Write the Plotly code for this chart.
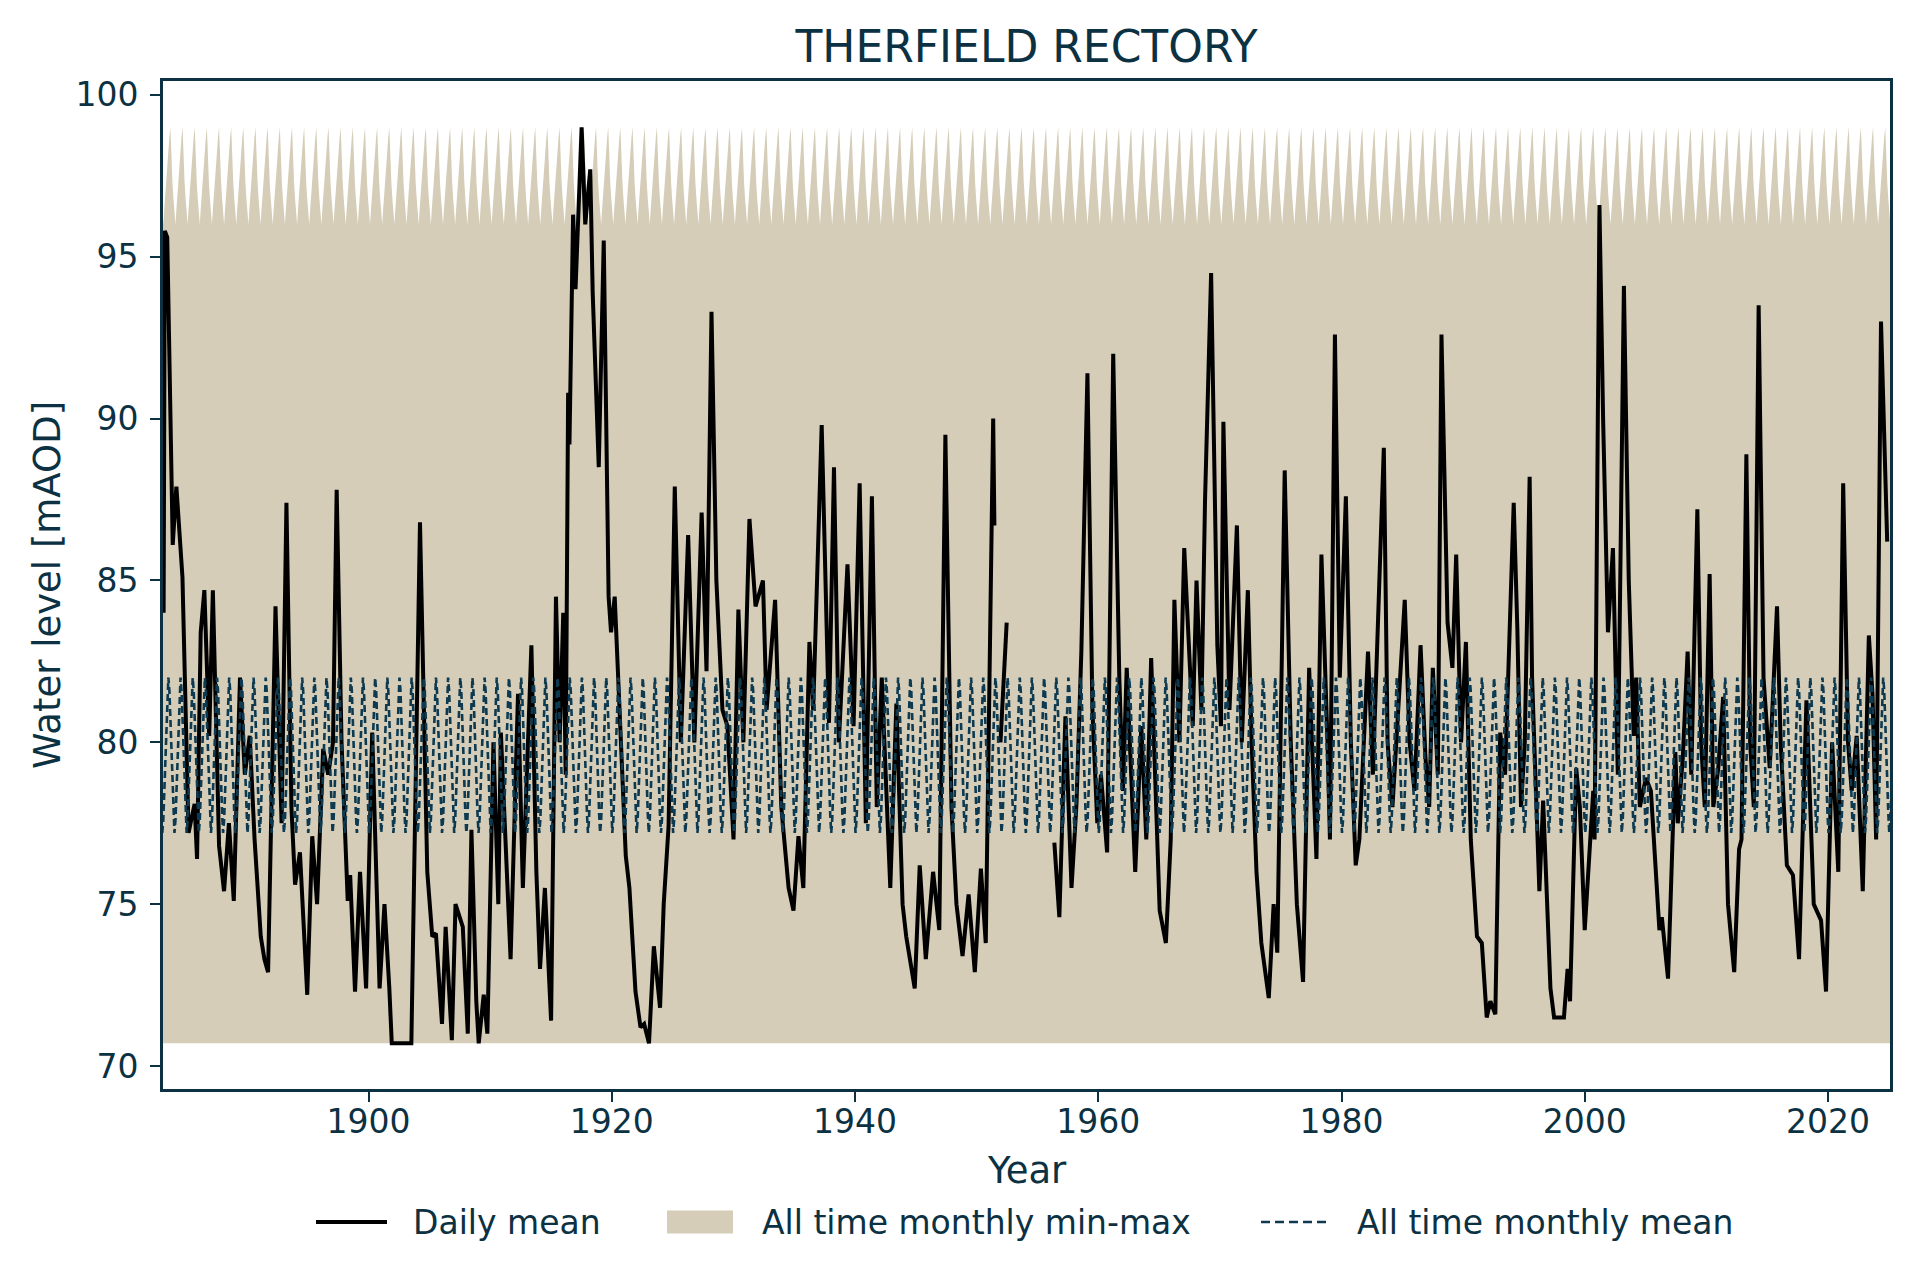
import plotly.graph_objects as go

# ---------------- data ----------------
# Daily mean water level (decimal year, mAOD); None marks the data gap
daily_years = [
    1883.15, 1883.25, 1883.45, 1883.90, 1884.20, 1884.70, 1885.20, 1885.70, 1885.90, 1886.20,
    1886.50, 1886.90, 1887.20, 1887.71, 1888.12, 1888.52, 1888.92, 1889.43, 1889.83, 1890.23,
    1890.63, 1891.14, 1891.44, 1891.74, 1892.35, 1892.85, 1893.25, 1893.66, 1893.96, 1894.36,
    1894.96, 1895.37, 1895.77, 1896.27, 1896.68, 1897.08, 1897.38, 1897.78, 1898.29, 1898.49,
    1898.89, 1899.30, 1899.80, 1900.30, 1900.91, 1901.31, 1901.71, 1901.91, 1903.52, 1903.73,
    1904.23, 1904.83, 1905.24, 1905.54, 1906.04, 1906.34, 1906.85, 1907.15, 1907.75, 1908.16,
    1908.46, 1908.86, 1909.06, 1909.47, 1909.77, 1910.27, 1910.67, 1910.88, 1911.68, 1912.29,
    1912.69, 1913.39, 1913.80, 1914.10, 1914.50, 1915.01, 1915.41, 1915.71, 1916.01, 1916.21,
    1916.41, 1916.52, 1916.82, 1917.02, 1917.52, 1917.82, 1918.23, 1918.43, 1918.93, 1919.34,
    1919.74, 1919.94, 1920.24, 1920.64, 1921.15, 1921.45, 1921.95, 1922.36, 1922.66, 1923.06,
    1923.46, 1923.97, 1924.27, 1924.67, 1925.18, 1925.68, 1926.28, 1926.79, 1927.39, 1927.79,
    1928.20, 1928.60, 1929.10, 1929.51, 1930.01, 1930.41, 1930.82, 1931.32, 1931.82, 1932.43,
    1932.73, 1933.43, 1933.94, 1934.54, 1934.94, 1935.35, 1935.75, 1936.25, 1936.56, 1937.26,
    1937.86, 1938.27, 1938.67, 1939.38, 1939.88, 1940.38, 1940.89, 1941.39, 1941.79, 1942.20,
    1942.90, 1943.40, 1943.91, 1944.21, 1944.91, 1945.32, 1945.82, 1946.42, 1946.93, 1947.43,
    1947.93, 1948.34, 1948.84, 1949.34, 1949.85, 1950.35, 1950.75, 1951.36, 1951.46, 1951.70,
    1951.96, 1952.47, 1954.00,
    1956.39, 1956.80, 1957.30, 1957.80, 1958.21, 1958.61, 1959.11, 1959.52, 1959.92, 1960.22,
    1960.73, 1961.23, 1961.73, 1962.03, 1962.34, 1963.04, 1963.54, 1963.95, 1964.35, 1965.05,
    1965.56, 1965.96, 1966.26, 1966.67, 1967.07, 1967.47, 1967.77, 1968.08, 1968.48, 1968.78,
    1969.28, 1969.79, 1970.09, 1970.29, 1970.79, 1971.40, 1971.80, 1972.30, 1972.61, 1973.01,
    1973.41, 1974.02, 1974.42, 1974.72, 1975.33, 1975.83, 1976.33, 1976.84, 1977.34, 1977.94,
    1978.35, 1978.85, 1979.05, 1979.46, 1979.86, 1980.36, 1980.77, 1981.17, 1981.47, 1982.18,
    1982.58, 1983.48, 1983.79, 1984.19, 1985.20, 1985.60, 1986.00, 1986.50, 1986.91, 1987.21,
    1987.51, 1987.92, 1988.22, 1988.72, 1989.12, 1989.43, 1989.83, 1990.23, 1990.63, 1991.14,
    1991.54, 1991.94, 1992.24, 1992.65, 1993.05, 1993.45, 1994.16, 1994.46, 1994.76, 1995.07,
    1995.47, 1995.67, 1996.07, 1996.27, 1996.58, 1996.78, 1997.18, 1997.48, 1998.29, 1998.59,
    1998.79, 1999.30, 1999.60, 2000.00, 2000.30, 2000.70, 2000.81, 2001.21, 2001.51, 2001.91,
    2002.32, 2002.72, 2003.22, 2003.62, 2004.03, 2004.23, 2004.53, 2005.03, 2005.44, 2005.74,
    2006.14, 2006.34, 2006.65, 2006.85, 2007.05, 2007.45, 2007.65, 2008.06, 2008.46, 2008.76,
    2009.26, 2009.57, 2009.87, 2010.27, 2010.57, 2010.98, 2011.38, 2011.78, 2012.29, 2012.69,
    2012.89, 2013.29, 2013.60, 2013.90, 2014.30, 2014.70, 2015.21, 2015.81, 2016.11, 2016.62,
    2017.12, 2017.62, 2018.23, 2018.53, 2018.83, 2019.43, 2019.84, 2020.34, 2020.85, 2021.25,
    2021.65, 2021.95, 2022.36, 2022.86, 2023.36, 2023.66, 2023.96, 2024.36, 2024.57, 2024.87,
]
daily_level = [
    84.0, 95.8, 95.6, 86.1, 87.9, 85.1, 77.2, 78.1, 76.4, 83.4,
    84.7, 80.2, 84.7, 76.8, 75.4, 77.5, 75.1, 82.0, 79.0, 80.2,
    77.0, 74.0, 73.3, 72.9, 84.2, 77.5, 87.4, 78.0, 75.6, 76.6,
    72.2, 77.1, 75.0, 79.8, 79.0, 80.0, 87.8, 80.0, 75.1, 75.9,
    72.3, 76.0, 72.4, 80.3, 72.4, 75.0, 72.4, 70.7, 70.7, 75.0,
    86.8, 76.0, 74.0, 74.1, 71.3, 74.3, 70.8, 75.0, 74.3, 71.0,
    77.3, 72.0, 70.7, 72.2, 71.0, 80.0, 75.0, 80.3, 73.3, 81.5,
    75.5, 83.0, 76.0, 73.0, 75.5, 71.4, 84.5, 80.0, 84.0, 79.0,
    90.8, 89.2, 96.3, 94.0, 99.0, 96.0, 97.7, 93.9, 88.5, 95.5,
    84.5, 83.4, 84.5, 81.0, 76.5, 75.5, 72.3, 71.2, 71.3, 70.7,
    73.7, 71.8, 75.0, 77.4, 87.9, 80.0, 86.4, 80.0, 87.1, 82.2,
    93.3, 85.0, 81.0, 80.5, 77.0, 84.1, 80.0, 86.9, 84.2, 85.0,
    81.0, 84.4, 78.0, 75.5, 74.8, 77.1, 75.5, 83.1, 81.0, 89.8,
    80.6, 88.5, 80.0, 85.5, 80.5, 88.0, 77.5, 87.6, 78.0, 82.0,
    75.5, 81.2, 75.0, 74.0, 72.4, 76.2, 73.3, 76.0, 74.2, 89.5,
    78.0, 75.0, 73.4, 75.3, 72.9, 76.1, 73.8, 90.0, 86.7, None,
    80.0, 83.7, None,
    76.9, 74.6, 80.8, 75.5, 78.1, 82.8, 91.4, 81.0, 77.5, 79.0,
    76.6, 92.0, 82.0, 78.5, 82.3, 76.0, 80.5, 77.0, 82.6, 74.8,
    73.8, 77.0, 84.4, 80.0, 86.0, 83.0, 80.5, 85.0, 81.0, 87.5,
    94.5, 83.0, 80.5, 89.9, 81.0, 86.7, 80.0, 84.7, 80.0, 76.0,
    73.8, 72.1, 75.0, 73.5, 88.4, 80.0, 75.0, 72.6, 82.3, 76.4,
    85.8, 80.0, 77.0, 92.6, 82.0, 87.6, 80.0, 76.2, 77.0, 82.8,
    79.0, 89.1, 80.0, 78.0, 84.4, 80.0, 78.5, 83.0, 79.5, 78.0,
    82.3, 79.0, 92.6, 83.7, 82.3, 85.8, 80.0, 83.1, 77.0, 74.0,
    73.8, 71.5, 72.0, 71.6, 80.3, 79.0, 87.4, 83.5, 78.0, 80.0,
    88.2, 82.0, 78.0, 75.4, 78.2, 76.0, 72.4, 71.5, 71.5, 73.0,
    72.0, 79.2, 78.0, 74.2, 76.0, 78.5, 77.0, 96.6, 90.0, 83.4,
    86.0, 79.0, 94.1, 85.0, 80.2, 82.0, 78.0, 78.9, 78.5, 76.5,
    74.2, 74.6, 73.3, 72.7, 75.0, 79.7, 77.5, 79.5, 82.8, 79.0,
    87.2, 80.0, 78.0, 85.2, 78.0, 79.2, 81.4, 75.0, 72.9, 76.7,
    77.0, 88.9, 80.0, 78.0, 93.5, 82.0, 79.2, 84.2, 80.0, 76.2,
    75.9, 73.3, 81.3, 78.0, 75.0, 74.5, 72.3, 80.0, 76.0, 88.0,
    80.0, 78.5, 80.2, 75.4, 83.3, 81.5, 77.0, 93.0, 90.0, 86.2,
]

# All-time monthly statistics (Jan..Dec), tiled over every year of record
months = [1, 2, 3, 4, 5, 6, 7, 8, 9, 10, 11, 12]
monthly_min = [70.7, 70.7, 70.7, 70.7, 70.7, 70.7, 70.7, 70.7, 70.7, 70.7, 70.7, 70.7]
monthly_max = [96.4, 96.0, 96.5, 97.0, 97.5, 97.8, 98.3, 98.7, 99.0, 98.0, 97.3, 96.8]
monthly_mean = [77.2, 77.6, 78.5, 79.5, 80.5, 81.4, 82.0, 81.6, 80.8, 79.8, 78.8, 77.8]
record_years = list(range(1883, 2026))

x_ticks = [1900, 1920, 1940, 1960, 1980, 2000, 2020]
y_ticks = [70, 75, 80, 85, 90, 95, 100]

legend_labels = ["Daily mean", "All time monthly min-max", "All time monthly mean"]

# ---------------- build climatology series ----------------
clim_x, clim_min, clim_max, clim_mean = [], [], [], []
for yr in record_years:
    for i, m in enumerate(months):
        clim_x.append(yr + (m - 0.5) / 12.0)
        clim_min.append(monthly_min[i])
        clim_max.append(monthly_max[i])
        clim_mean.append(monthly_mean[i])

TXT = "#0b3142"
FILL = "#d5cdb8"
MEANC = "#0d3a50"
FONT = "DejaVu Sans"

fig = go.Figure()
fig.add_trace(go.Scatter(x=clim_x, y=clim_min, mode="lines", line=dict(width=0, color=FILL),
                         showlegend=False, hoverinfo="skip"))
fig.add_trace(go.Scatter(x=clim_x, y=clim_max, mode="lines", line=dict(width=0, color=FILL),
                         fill="tonexty", fillcolor=FILL, name=legend_labels[1],
                         showlegend=False))
fig.add_trace(go.Scatter(x=daily_years, y=daily_level, mode="lines",
                         line=dict(color="black", width=4), name=legend_labels[0],
                         connectgaps=False, showlegend=False))
fig.add_trace(go.Scatter(x=clim_x, y=clim_mean, mode="lines",
                         line=dict(color=MEANC, width=2.6, dash="7px,4px"),
                         name=legend_labels[2], showlegend=False))

W, H = 1920, 1280
L, R, T, B = 163, 30, 81, 191
pw, ph = W - L - R, H - T - B


def px_x(x):
    return (x - L) / pw


def px_y(y):
    return (H - B - y) / ph


LEG_Y = 1222
shapes = [
    dict(type="line", xref="paper", yref="paper", x0=px_x(316), x1=px_x(387),
         y0=px_y(LEG_Y), y1=px_y(LEG_Y), line=dict(color="black", width=4)),
    dict(type="rect", xref="paper", yref="paper", x0=px_x(667), x1=px_x(733),
         y0=px_y(LEG_Y + 11.5), y1=px_y(LEG_Y - 11.5), line=dict(width=0), fillcolor=FILL),
    dict(type="line", xref="paper", yref="paper", x0=px_x(1261), x1=px_x(1328),
         y0=px_y(LEG_Y), y1=px_y(LEG_Y), line=dict(color=MEANC, width=2.6, dash="9px,5px")),
]
leg_text_x = [411, 760, 1355]

annotations = [
    dict(text="Year", xref="paper", yref="paper", x=0.5, y=px_y(1170),
         xanchor="center", yanchor="middle", showarrow=False,
         font=dict(family=FONT, size=37, color=TXT)),
    dict(text="Water level [mAOD]", xref="paper", yref="paper", x=px_x(47), y=0.5,
         xanchor="center", yanchor="middle", showarrow=False, textangle=-90,
         font=dict(family=FONT, size=37, color=TXT)),
]
for lab, tx in zip(legend_labels, leg_text_x):
    annotations.append(dict(text=lab, xref="paper", yref="paper", x=px_x(tx), y=px_y(LEG_Y),
                            xanchor="left", yanchor="middle", showarrow=False,
                            font=dict(family=FONT, size=33, color=TXT)))

fig.update_layout(
    width=W, height=H,
    margin=dict(l=L, r=R, t=T, b=B),
    paper_bgcolor="white", plot_bgcolor="white",
    font=dict(family=FONT, color=TXT),
    showlegend=False,
    title=dict(text="THERFIELD RECTORY", x=0.5, xref="paper", y=1 - 47 / H, yanchor="middle",
               font=dict(family=FONT, size=44, color=TXT)),
    xaxis=dict(range=[1883.1, 2025.1], tickmode="array", tickvals=x_ticks,
               ticktext=[str(v) for v in x_ticks], showgrid=False, zeroline=False,
               showline=True, linecolor=TXT, linewidth=3, mirror=True,
               ticks="outside", ticklen=10, tickwidth=2, tickcolor=TXT,
               ticklabelstandoff=-9,
               tickfont=dict(family=FONT, size=33, color=TXT)),
    yaxis=dict(range=[69.29, 100.43], tickmode="array", tickvals=y_ticks,
               ticktext=[str(v) for v in y_ticks], showgrid=False, zeroline=False,
               showline=True, linecolor=TXT, linewidth=3, mirror=True,
               ticks="outside", ticklen=10, tickwidth=2, tickcolor=TXT,
               ticklabelstandoff=5,
               tickfont=dict(family=FONT, size=33, color=TXT)),
    shapes=shapes,
    annotations=annotations,
)

fig.write_html("out.html",
               config={"displayModeBar": False},
               post_script="document.body.style.margin='0px';document.body.style.overflow='hidden';")
